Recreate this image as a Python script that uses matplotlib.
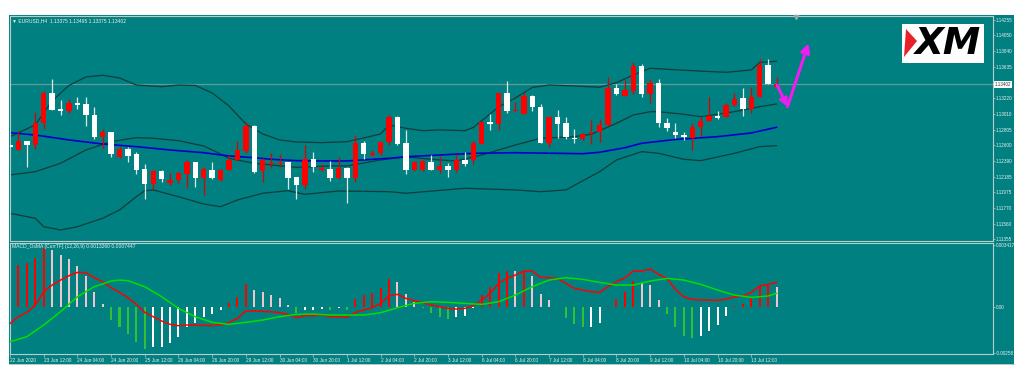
# EURUSD H4 con Bandas de Bollinger, media móvil y MACD_OsMA (recreación del gráfico MT4)
import numpy as np
import matplotlib
matplotlib.use("Agg")
import matplotlib.pyplot as plt
from matplotlib.patches import Rectangle, Polygon
from matplotlib.lines import Line2D

plt.rcParams['font.family'] = ['Liberation Sans', 'DejaVu Sans']

# --- Velas ---
opens = [1.12598, 1.12540, 1.12655, 1.12602, 1.12889, 1.13286, 1.13082, 1.13052, 1.13157, 1.13140,
         1.13003, 1.12712, 1.12770, 1.12440, 1.12549, 1.12479, 1.12285, 1.12091, 1.12254, 1.12104,
         1.12136, 1.12223, 1.12377, 1.12170, 1.12276, 1.12136, 1.12276, 1.12404, 1.12527, 1.12853,
         1.12254, 1.12346, 1.12368, 1.12373, 1.12175, 1.12077, 1.12413, 1.12272, 1.12289, 1.12162,
         1.12294, 1.12162, 1.12629, 1.12470, 1.12500, 1.12638, 1.12972, 1.12633, 1.12268, 1.12268,
         1.12381, 1.12272, 1.12325, 1.12272, 1.12408, 1.12400, 1.12619, 1.12902, 1.12884, 1.13286,
         1.13052, 1.13016, 1.13250, 1.13104, 1.12629, 1.12968, 1.12893, 1.12699, 1.12677, 1.12757,
         1.12774, 1.12862, 1.13356, 1.13254, 1.13320, 1.13642, 1.13280, 1.13422, 1.12889, 1.12770,
         1.12738, 1.12695, 1.12840, 1.12919, 1.12981, 1.12972, 1.13127, 1.13220, 1.13074, 1.13241,
         1.13664, 1.13375]
highs = [1.12602, 1.12791, 1.12660, 1.13042, 1.13320, 1.13475, 1.13197, 1.13206, 1.13241, 1.13241,
         1.13100, 1.12810, 1.12775, 1.12580, 1.12580, 1.12514, 1.12346, 1.12272, 1.12272, 1.12228,
         1.12241, 1.12404, 1.12380, 1.12315, 1.12373, 1.12280, 1.12470, 1.12659, 1.12910, 1.12862,
         1.12426, 1.12500, 1.12483, 1.12377, 1.12179, 1.12606, 1.12506, 1.12346, 1.12391, 1.12437,
         1.12311, 1.12734, 1.12655, 1.12536, 1.12659, 1.12999, 1.12986, 1.12801, 1.12391, 1.12404,
         1.12470, 1.12457, 1.12364, 1.12479, 1.12506, 1.12655, 1.12910, 1.13008, 1.13295, 1.13448,
         1.13175, 1.13307, 1.13267, 1.13140, 1.12976, 1.13065, 1.12968, 1.12810, 1.12757, 1.12933,
         1.12946, 1.13505, 1.13409, 1.13462, 1.13699, 1.13669, 1.13471, 1.13471, 1.12955, 1.12889,
         1.12774, 1.12897, 1.12976, 1.13233, 1.13048, 1.13153, 1.13294, 1.13352, 1.13373, 1.13735,
         1.13735, 1.13495]
lows = [1.12569, 1.12535, 1.12315, 1.12549, 1.12810, 1.13060, 1.12999, 1.13029, 1.13074, 1.12853,
        1.12677, 1.12558, 1.12447, 1.12435, 1.12381, 1.12219, 1.11884, 1.12024, 1.12117, 1.12073,
        1.12104, 1.12030, 1.12043, 1.11941, 1.12158, 1.12132, 1.12272, 1.12395, 1.12492, 1.12228,
        1.12119, 1.12294, 1.12315, 1.12024, 1.11888, 1.12017, 1.12241, 1.12259, 1.12126, 1.12153,
        1.11829, 1.12117, 1.12413, 1.12463, 1.12474, 1.12602, 1.12602, 1.12223, 1.12259, 1.12259,
        1.12265, 1.12228, 1.12175, 1.12249, 1.12325, 1.12355, 1.12615, 1.12804, 1.12804, 1.13021,
        1.13045, 1.13010, 1.13056, 1.12624, 1.12580, 1.12699, 1.12681, 1.12633, 1.12669, 1.12615,
        1.12642, 1.12855, 1.13263, 1.13250, 1.13272, 1.13241, 1.13153, 1.12840, 1.12791, 1.12695,
        1.12669, 1.12536, 1.12721, 1.12915, 1.12946, 1.12968, 1.13124, 1.12986, 1.13029, 1.13236,
        1.13405, 1.13375]
closes = [1.12576, 1.12655, 1.12602, 1.12889, 1.13286, 1.13065, 1.13056, 1.13157, 1.13131, 1.12999,
          1.12712, 1.12774, 1.12479, 1.12545, 1.12461, 1.12272, 1.12091, 1.12254, 1.12149, 1.12140,
          1.12228, 1.12377, 1.12170, 1.12281, 1.12162, 1.12276, 1.12404, 1.12536, 1.12853, 1.12249,
          1.12400, 1.12368, 1.12377, 1.12170, 1.12077, 1.12413, 1.12315, 1.12292, 1.12162, 1.12298,
          1.12162, 1.12633, 1.12487, 1.12500, 1.12638, 1.12972, 1.12619, 1.12268, 1.12377, 1.12391,
          1.12268, 1.12325, 1.12272, 1.12400, 1.12355, 1.12629, 1.12902, 1.12884, 1.13290, 1.13052,
          1.13069, 1.13250, 1.13100, 1.12629, 1.12968, 1.12884, 1.12712, 1.12677, 1.12748, 1.12778,
          1.12871, 1.13356, 1.13276, 1.13333, 1.13642, 1.13280, 1.13422, 1.12893, 1.12827, 1.12738,
          1.12702, 1.12844, 1.12919, 1.12981, 1.12959, 1.13127, 1.13206, 1.13074, 1.13241, 1.13664,
          1.13409, 1.13402]

# --- Bandas de Bollinger y media (puntos leídos) ---
upper_bars = [0, 3, 5, 7, 9, 11, 13, 15, 18, 20, 22, 24, 26, 28, 30, 32, 34, 37, 40, 42, 44, 45, 47, 49,
              51, 54, 55, 57, 58, 60, 62, 64, 67, 70, 72, 74, 76, 78, 81, 85, 88, 89, 91]
upper_vals = [1.12712, 1.12867, 1.13184, 1.13389, 1.13501, 1.13524, 1.13488, 1.13395, 1.13373, 1.13395,
              1.13389, 1.13290, 1.13118, 1.12880, 1.12748, 1.12669, 1.12642, 1.12633, 1.12646, 1.12695,
              1.12748, 1.12867, 1.12823, 1.12791, 1.12801, 1.12791, 1.12834, 1.13012, 1.13105, 1.13223,
              1.13362, 1.13395, 1.13382, 1.13365, 1.13426, 1.13528, 1.13616, 1.13603, 1.13584, 1.13563,
              1.13594, 1.13693, 1.13709]
mid_bars = [0, 3, 6, 9, 12, 15, 17, 20, 23, 25, 26, 29, 31, 34, 38, 40, 44, 47, 51, 53, 56, 60, 63, 67,
            69, 72, 74, 76, 77, 80, 82, 86, 89, 91]
mid_vals = [1.12206, 1.12249, 1.12360, 1.12536, 1.12646, 1.12699, 1.12691, 1.12659, 1.12589, 1.12483,
            1.12426, 1.12360, 1.12338, 1.12307, 1.12325, 1.12325, 1.12404, 1.12444, 1.12404, 1.12391,
            1.12470, 1.12602, 1.12691, 1.12712, 1.12744, 1.12889, 1.12999, 1.13042, 1.13042, 1.13008,
            1.12976, 1.13042, 1.13108, 1.13144]
lower_bars = [0, 3, 4, 6, 8, 11, 13, 15, 16, 17, 20, 23, 25, 27, 30, 33, 35, 39, 45, 47, 54, 60, 63, 66,
              70, 72, 75, 77, 80, 82, 86, 89, 91]
lower_vals = [1.11699, 1.11633, 1.11522, 1.11479, 1.11522, 1.11633, 1.11743, 1.11919, 1.11998, 1.12008,
              1.11919, 1.11822, 1.11786, 1.11875, 1.11964, 1.11998, 1.11950, 1.11994, 1.11985, 1.11964,
              1.12030, 1.12008, 1.11985, 1.12008, 1.12249, 1.12404, 1.12514, 1.12492, 1.12413, 1.12395,
              1.12492, 1.12580, 1.12593]
ma_bars = [0, 3, 7, 11, 15, 19, 23, 26, 29, 31, 34, 37, 40, 45, 47, 55, 60, 68, 70, 73, 75, 79, 84, 88, 91]
ma_vals = [1.12765, 1.12734, 1.12669, 1.12615, 1.12580, 1.12536, 1.12500, 1.12457, 1.12434, 1.12413,
           1.12395, 1.12391, 1.12391, 1.12426, 1.12447, 1.12492, 1.12500, 1.12487, 1.12506, 1.12566,
           1.12625, 1.12675, 1.12712, 1.12761, 1.12836]

current_price = 1.13402
price_ticks = [1.14255, 1.14050, 1.13840, 1.13635, 1.13220, 1.13010, 1.12805, 1.12600, 1.12390,
               1.12185, 1.11975, 1.11770, 1.11560, 1.11355]

# flecha de previsión (magenta)
arrow_bars = [91.06, 92.3, 94.8]
arrow_prices = [1.13395, 1.13108, 1.13947]
shift_bar = 93.3

# --- MACD_OsMA ---
osma = [0.001846, 0.002308, 0.0024, 0.002714, 0.00323, 0.003138, 0.002861, 0.002621, 0.002252, 0.001698,
        0.000794, 0.000148, -0.000738, -0.001108, -0.001532, -0.001975, -0.002363, -0.002252, -0.002215,
        -0.002031, -0.001661, -0.001108, -0.000923, -0.000572, -0.000425, -0.000185, 0.000185, 0.000554,
        0.001237, 0.000905, 0.000794, 0.000628, 0.000498, 0.000092, -0.000332, -0.000203, -0.000185,
        -0.000129, -0.000203, -0.000092, -0.000185, 0.000425, 0.000646, 0.000738, 0.001015, 0.001514,
        0.001348, 0.000701, 0.000277, -0.000055, -0.000369, -0.000554, -0.000701, -0.000591, -0.000517,
        -0.000055, 0.000646, 0.001108, 0.001883, 0.001975, 0.00196, 0.001994, 0.001698, 0.000683,
        0.000351, -0.000037, -0.000609, -0.000978, -0.001108, -0.0011, -0.000886, 0.000055, 0.000425,
        0.000794, 0.001421, 0.001292, 0.0012, 0.000351, -0.000425, -0.001145, -0.001624, -0.001754,
        -0.001606, -0.001329, -0.001015, -0.000498, 0.000037, 0.000148, 0.000498, 0.001145, 0.0012,
        0.001071]
macd_red = [-0.000923, -0.000554, -0.000314, 0.000092, 0.000831, 0.0012, 0.001477, 0.001717, 0.001901,
            0.001883, 0.001606, 0.001385, 0.001052, 0.000794, 0.000498, 0.000129, -0.000314, -0.000554,
            -0.000794, -0.000978, -0.001052, -0.001015, -0.001015, -0.001034, -0.001052, -0.001015,
            -0.000868, -0.000646, -0.00024, -0.00024, -0.000258, -0.000277, -0.000332, -0.000425,
            -0.000609, -0.000498, -0.000498, -0.000462, -0.000554, -0.000554, -0.000591, -0.000314,
            -0.000185, -0.000055, 0.000185, 0.000609, 0.000683, 0.000462, 0.000332, 0.000222, 0.000092,
            0.0, -0.000092, -0.000129, -0.000092, 0.000055, 0.000369, 0.000738, 0.001292, 0.001569,
            0.001754, 0.001975, 0.001975, 0.001624, 0.001606, 0.001551, 0.001292, 0.001015, 0.000923,
            0.000831, 0.000794, 0.001108, 0.001385, 0.001606, 0.001975, 0.001975, 0.002086, 0.001791,
            0.001569, 0.00096, 0.000554, 0.000406, 0.000369, 0.000369, 0.000351, 0.000425, 0.000535,
            0.000591, 0.000794, 0.001145, 0.001237, 0.001348]
sig_bars = [0, 2, 4, 6, 8, 10, 12, 13, 14, 16, 18, 20, 22, 24, 26, 28, 30, 32, 34, 36, 38, 40, 42, 44,
            46, 48, 50, 52, 54, 56, 58, 60, 62, 64, 66, 68, 70, 72, 74, 76, 78, 80, 82, 84, 86, 88, 90, 91]
sig_vals = [-0.001938, -0.001661, -0.001015, -0.000277, 0.000554, 0.001108, 0.001421, 0.001477, 0.00144,
            0.001108, 0.000554, -0.000092, -0.000554, -0.000868, -0.000978, -0.000868, -0.000738,
            -0.000554, -0.000425, -0.000406, -0.000462, -0.000462, -0.000462, -0.000332, -0.000055,
            0.000185, 0.000277, 0.00024, 0.000185, 0.000129, 0.000277, 0.000646, 0.001108, 0.001477,
            0.001606, 0.001514, 0.001348, 0.0012, 0.0012, 0.001421, 0.001569, 0.001477, 0.001237,
            0.000923, 0.000646, 0.000517, 0.000591, 0.000738]
macd_ticks = [0.003417, 0.0, -0.00258]
macd_tick_labels = ['0.003417', '0.00', '-0.00258']

time_labels = ['22 Jun 2020', '23 Jun 12:00', '24 Jun 04:00', '24 Jun 20:00', '25 Jun 12:00',
               '26 Jun 04:00', '26 Jun 20:00', '29 Jun 12:00', '30 Jun 04:00', '30 Jun 20:00',
               '1 Jul 12:00', '2 Jul 04:00', '2 Jul 20:00', '3 Jul 12:00', '6 Jul 04:00', '6 Jul 20:00',
               '7 Jul 12:00', '8 Jul 04:00', '8 Jul 20:00', '9 Jul 12:00', '10 Jul 04:00',
               '10 Jul 20:00', '13 Jul 12:00']

# colores
TEAL = '#008080'
BORDER = '#b8cccc'
TXT = '#eeeeee'

W, H = 1031, 377
fig = plt.figure(figsize=(W / 100, H / 100), dpi=100)
fig.patch.set_facecolor('white')
fig.patches.append(Rectangle((9 / W, 1 - 365 / H), 1005 / W, 350 / H, transform=fig.transFigure,
                             facecolor=TEAL, edgecolor='none', zorder=-5))
fig.add_artist(Line2D([9 / W, 1014 / W], [1 - 363.5 / H] * 2, color=BORDER, lw=0.7, zorder=-4))

ax = fig.add_axes([9.5 / W, 1 - 241 / H, 983.5 / W, 225 / H])
ax2 = fig.add_axes([9.5 / W, 1 - 354 / H, 983.5 / W, 111 / H])

for a in (ax, ax2):
    a.set_facecolor(TEAL)
    for s in a.spines.values():
        s.set_color(BORDER)
        s.set_linewidth(0.8)
    a.set_xlim(-0.06, 116.7)
    a.yaxis.tick_right()
    a.tick_params(axis='y', direction='out', length=1.5, width=0.5, color=BORDER,
                  labelsize=3.3, labelcolor=TXT, pad=0.6)

# --- Panel principal: velas ---
x = np.arange(len(opens))
o = np.array(opens); c = np.array(closes); h = np.array(highs); l = np.array(lows)
up = c >= o
wick_col = np.where(up, '#e00000', '#dde8e8')
body_col = np.where(up, '#ff0000', '#ffffff')
ax.vlines(x, l, h, colors=wick_col, lw=0.9, zorder=3)
body_h = np.maximum(np.abs(c - o), 0.00012)
ax.bar(x, body_h, bottom=np.minimum(o, c), width=0.64, color=body_col, edgecolor='none', zorder=4)

ax.plot(upper_bars, upper_vals, color='#123c3c', lw=0.9, zorder=2)
ax.plot(mid_bars, mid_vals, color='#123c3c', lw=0.9, zorder=2)
ax.plot(lower_bars, lower_vals, color='#123c3c', lw=0.9, zorder=2)
ax.plot(ma_bars, ma_vals, color='#0000cc', lw=1.2, zorder=2)
ax.axhline(current_price, color='#5c9c9c', lw=0.9, zorder=1)

ax.set_ylim(1.11333, 1.14307)
ax.set_yticks(price_ticks)
ax.set_yticklabels([f'{v:.5f}' for v in price_ticks])
ax.set_xticks([])
ax.text(1.002, current_price, f'{current_price:.5f}', transform=ax.get_yaxis_transform(),
        fontsize=3.3, color='#333333', va='center', ha='left',
        bbox=dict(facecolor='white', edgecolor='none', pad=0.4))

# flecha magenta
ax.annotate('', xy=(arrow_bars[1], arrow_prices[1]), xytext=(arrow_bars[0], arrow_prices[0]),
            arrowprops=dict(arrowstyle='-|>', color='#f01cf0', lw=2.2, mutation_scale=11,
                            shrinkA=0, shrinkB=0), annotation_clip=False, zorder=6)
ax.annotate('', xy=(arrow_bars[2], arrow_prices[2]), xytext=(arrow_bars[1], arrow_prices[1]),
            arrowprops=dict(arrowstyle='-|>', color='#f01cf0', lw=2.2, mutation_scale=13,
                            shrinkA=0, shrinkB=0), annotation_clip=False, zorder=6)
ax.plot([shift_bar], [1.14290], marker='v', ms=3, color='#9aa8a8', zorder=5, clip_on=False)

fig.text(12 / W, 1 - 20.5 / H, '\u25bc EURUSD,H4  1.13375 1.13495 1.13375 1.13402',
         fontsize=3.6, color=TXT, va='center', ha='left')

# logo XM
fig.patches.append(Rectangle((902 / W, 1 - 63 / H), 82 / W, 39 / H, transform=fig.transFigure,
                             facecolor='white', edgecolor='none', zorder=5))
fig.patches.append(Polygon([(906 / W, 1 - 29 / H), (917 / W, 1 - 41 / H), (904 / W, 1 - 57 / H)],
                           closed=True, transform=fig.transFigure, facecolor='#e8202a',
                           edgecolor='none', zorder=6))
fig.text(948 / W, 1 - 44 / H, 'XM', fontsize=27, fontweight='bold', fontstyle='italic',
         family='DejaVu Sans', color='black', ha='center', va='center', zorder=7)

# --- Panel MACD_OsMA ---
hc = []
for i, v in enumerate(osma):
    prev = osma[i - 1] if i > 0 else v
    if v >= 0:
        hc.append('#ff0000' if v >= prev else '#f2c4cc')
    else:
        hc.append('#34c034' if v < prev else '#ffffff')
ax2.bar(x, osma, width=0.24, color=hc, edgecolor='none', zorder=2)
ax2.plot(x, macd_red, color='#ff0000', lw=1.1, zorder=3)
ax2.plot(sig_bars, sig_vals, color='#00e000', lw=1.1, zorder=3)
ax2.set_ylim(-0.00262, 0.00353)
ax2.set_yticks(macd_ticks)
ax2.set_yticklabels(macd_tick_labels)
ax2.set_xticks(np.arange(len(time_labels)) * 4)
ax2.set_xticklabels(time_labels, ha='left')
ax2.tick_params(axis='x', direction='out', length=2, width=0.5, color=BORDER,
                labelsize=3.4, labelcolor=TXT, pad=0.8)
fig.text(12 / W, 1 - 246.5 / H, 'MACD_OsMA [CurrTF] (12,26,9) 0.0013260 0.0007447',
         fontsize=3.6, color=TXT, va='center', ha='left')

fig.savefig('out.png', dpi=100, facecolor='white')
